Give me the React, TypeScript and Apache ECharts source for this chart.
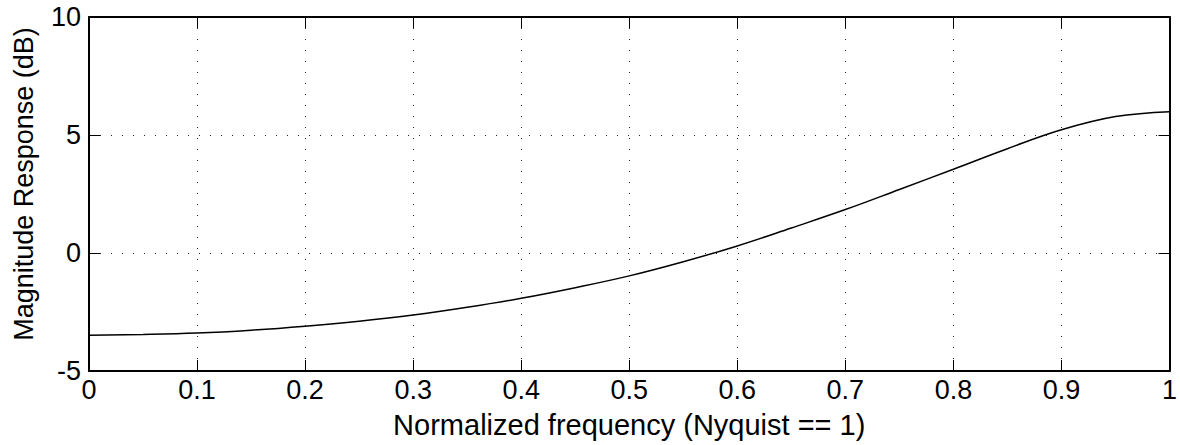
import React, { useEffect, useRef } from "react";
import * as echarts from "echarts";

const freq = [0, 0.05, 0.1, 0.15, 0.2, 0.25, 0.3, 0.35, 0.4, 0.45, 0.5, 0.55, 0.6, 0.65, 0.7, 0.75, 0.8, 0.85, 0.9, 0.95, 1];
const magDb = [-3.48, -3.45, -3.39, -3.27, -3.1, -2.89, -2.63, -2.3, -1.92, -1.47, -0.97, -0.37, 0.3, 1.06, 1.84, 2.69, 3.55, 4.42, 5.22, 5.78, 5.99];
const xTicks = ["0", "0.1", "0.2", "0.3", "0.4", "0.5", "0.6", "0.7", "0.8", "0.9", "1"];
const yTicks = ["-5", "0", "5", "10"];
const xTitle = "Normalized frequency (Nyquist == 1)";
const yTitle = "Magnitude Response (dB)";

const FONT = "'Liberation Sans', Arial, Helvetica, sans-serif";

export default function App() {
  const ref = useRef<HTMLDivElement>(null);
  useEffect(() => {
    if (!ref.current) return;
    const chart = echarts.init(ref.current, null, { renderer: "svg" });
    const axisLine = { show: true, onZero: false, lineStyle: { color: "#000", width: 2 } };
    const axisTick = { show: true, inside: true, length: 11, lineStyle: { color: "#000", width: 1 } };
    const split = { show: true, lineStyle: { color: "#222", width: 1, type: [1, 10] as any } };
    chart.setOption({
      animation: false,
      backgroundColor: "#fff",
      grid: { left: 89, top: 17, right: 5, bottom: 74, containLabel: false },
      xAxis: [
        {
          type: "value",
          min: 0,
          max: 1,
          interval: 0.1,
          position: "bottom",
          axisLine,
          axisTick,
          splitLine: split,
          axisLabel: {
            color: "#000",
            fontFamily: FONT,
            fontSize: 27,
            margin: 5,
            formatter: (v: number) => xTicks[Math.round(v * 10)] ?? "",
          },
          name: xTitle,
          nameLocation: "middle",
          nameGap: 39,
          nameTextStyle: { color: "#000", fontFamily: FONT, fontSize: 29 },
        },
        {
          type: "value",
          min: 0,
          max: 1,
          interval: 0.1,
          position: "top",
          axisLine,
          axisTick,
          splitLine: { show: false },
          axisLabel: { show: false },
        },
      ],
      yAxis: [
        {
          type: "value",
          min: -5,
          max: 10,
          interval: 5,
          position: "left",
          axisLine,
          axisTick,
          splitLine: split,
          axisLabel: {
            color: "#000",
            fontFamily: FONT,
            fontSize: 27,
            margin: 8,
            formatter: (v: number) => yTicks[Math.round((v + 5) / 5)] ?? "",
          },
          name: yTitle,
          nameLocation: "middle",
          nameGap: 52,
          nameRotate: 90,
          nameTextStyle: { color: "#000", fontFamily: FONT, fontSize: 27, padding: [0, 0, 0, 20] },
        },
        {
          type: "value",
          min: -5,
          max: 10,
          interval: 5,
          position: "right",
          axisLine,
          axisTick,
          splitLine: { show: false },
          axisLabel: { show: false },
        },
      ],
      series: [
        {
          type: "line",
          xAxisIndex: 0,
          yAxisIndex: 0,
          data: freq.map((f, i) => [f, magDb[i]]),
          smooth: 0.4,
          showSymbol: false,
          lineStyle: { color: "#000", width: 1.5 },
        },
      ],
    });
    return () => chart.dispose();
  }, []);
  return <div ref={ref} style={{ width: 1180, height: 445, position: "absolute", left: 0, top: 0 }} />;
}
